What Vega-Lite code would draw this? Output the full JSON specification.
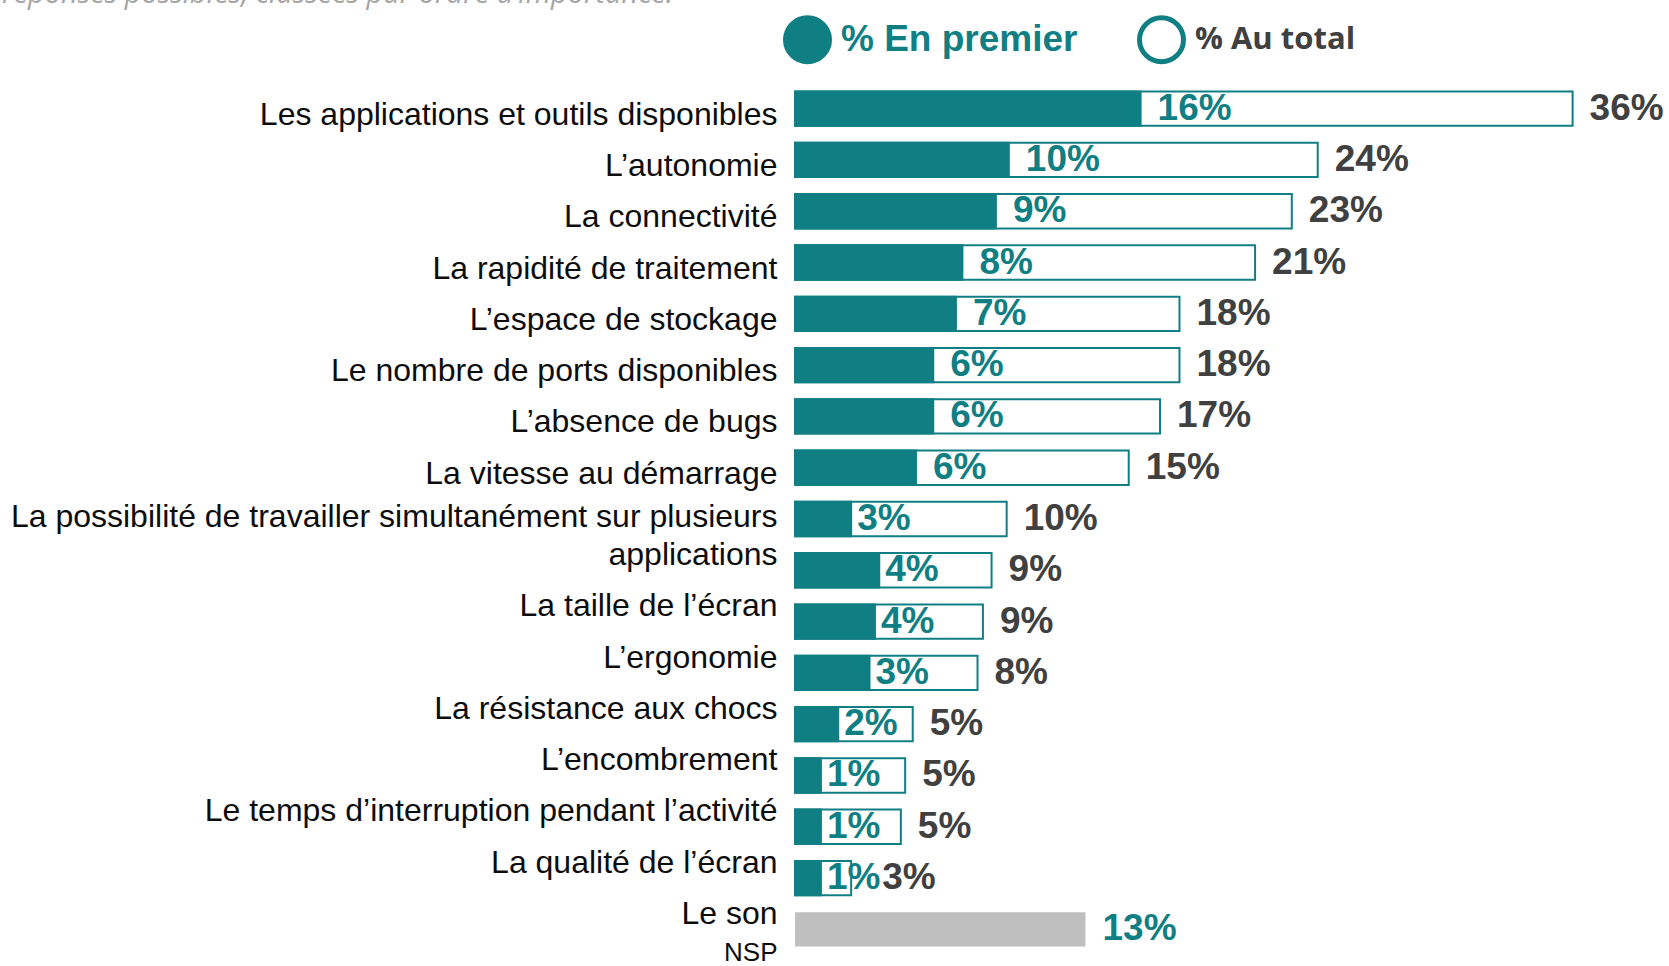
{
  "$schema": "https://vega.github.io/schema/vega-lite/v6.json",
  "width": 864,
  "height": 872,
  "autosize": {"type": "none"},
  "padding": {"left": 795, "top": 83, "right": 10, "bottom": 11},
  "background": "white",
  "config": {"view": {"stroke": null}, "font": "Liberation Sans"},
  "title": {
    "text": "réponses possibles, classées par ordre d’importance.",
    "anchor": "start",
    "frame": "group",
    "orient": "top",
    "dx": -793,
    "dy": 17,
    "offset": 0,
    "baseline": "alphabetic",
    "font": "Open Sans",
    "fontStyle": "italic",
    "fontWeight": "normal",
    "fontSize": 29,
    "color": "#a6a6a6"
  },
  "data": {
    "values": [
      {"item": "Les applications et outils disponibles", "premier": 0.160, "total": 0.360},
      {"item": "L’autonomie", "premier": 0.099, "total": 0.242},
      {"item": "La connectivité", "premier": 0.093, "total": 0.230},
      {"item": "La rapidité de traitement", "premier": 0.0775, "total": 0.213},
      {"item": "L’espace de stockage", "premier": 0.0745, "total": 0.178},
      {"item": "Le nombre de ports disponibles", "premier": 0.064, "total": 0.178},
      {"item": "L’absence de bugs", "premier": 0.064, "total": 0.169},
      {"item": "La vitesse au démarrage", "premier": 0.056, "total": 0.1545},
      {"item": "La possibilité de travailler simultanément sur plusieurs applications", "premier": 0.026, "total": 0.098},
      {"item": "La taille de l’écran", "premier": 0.039, "total": 0.091},
      {"item": "L’ergonomie", "premier": 0.037, "total": 0.087},
      {"item": "La résistance aux chocs", "premier": 0.0345, "total": 0.0845},
      {"item": "L’encombrement", "premier": 0.020, "total": 0.0545},
      {"item": "Le temps d’interruption pendant l’activité", "premier": 0.012, "total": 0.051},
      {"item": "La qualité de l’écran", "premier": 0.012, "total": 0.049},
      {"item": "Le son", "premier": 0.012, "total": 0.026},
      {"item": "NSP", "nsp": 0.1345}
    ]
  },
  "encoding": {
    "y": {
      "field": "item",
      "type": "nominal",
      "sort": null,
      "scale": {"paddingInner": 0.33, "paddingOuter": 0.165},
      "axis": {
        "title": null,
        "domain": false,
        "ticks": false,
        "tickSize": 0,
        "labelPadding": 18,
        "labelFont": "Liberation Sans",
        "labelFontSize": {"condition": {"test": "datum.value === 'NSP'", "value": 26}, "value": 32},
        "labelColor": "#0d0d0d",
        "labelLimit": 900,
        "labelOverlap": false,
        "labelBound": false,
        "labelLineHeight": 38,
        "labelOffset": {
          "condition": [
            {"test": "datum.value === 'NSP'", "value": 24},
            {"test": "datum.value === 'La possibilité de travailler simultanément sur plusieurs applications'", "value": -2},
            {"test": "indexof(['La taille de l’écran','L’ergonomie','La résistance aux chocs','L’encombrement','Le temps d’interruption pendant l’activité','La qualité de l’écran','Le son'], datum.value) >= 0", "value": 36}
          ],
          "value": 6
        },
        "labelExpr": "datum.value === 'La possibilité de travailler simultanément sur plusieurs applications' ? ['La possibilité de travailler simultanément sur plusieurs', 'applications'] : datum.label"
      }
    }
  },
  "layer": [
    {
      "mark": {"type": "bar", "stroke": "#107f83", "strokeWidth": 2},
      "encoding": {
        "x": {"field": "total", "type": "quantitative", "scale": {"domain": [0, 0.4], "nice": false, "zero": true}, "axis": null},
        "fill": {
          "datum": "% Au total",
          "type": "nominal",
          "scale": {"domain": ["% En premier", "% Au total"], "range": ["#107f83", "#ffffff"]},
          "legend": {
            "orient": "none",
            "legendX": -12,
            "legendY": -68,
            "direction": "horizontal",
            "title": null,
            "symbolType": "circle",
            "symbolSize": 1936,
            "symbolStrokeColor": "#107f83",
            "symbolStrokeWidth": 5,
            "labelFont": "Liberation Sans",
            "labelFontSize": 37,
            "labelFontWeight": "bold",
            "labelColor": "#107f83",
            "labelOffset": 9,
            "columnPadding": 51,
            "padding": 0,
            "labelLimit": 500,
            "encode": {
              "labels": {
                "update": {
                  "fill": {"signal": "datum.label === '% Au total' ? '#404040' : '#107f83'"},
                  "font": {"signal": "datum.label === '% Au total' ? 'Open Sans' : 'Liberation Sans'"},
                  "fontSize": {"signal": "datum.label === '% Au total' ? 31 : 37"}
                }
              }
            }
          }
        }
      }
    },
    {
      "mark": {"type": "bar", "stroke": "#107f83", "strokeWidth": 2},
      "encoding": {
        "x": {"field": "premier", "type": "quantitative"},
        "fill": {"datum": "% En premier", "type": "nominal"}
      }
    },
    {
      "mark": {"type": "bar", "color": "#bfbfbf"},
      "encoding": {
        "x": {"field": "nsp", "type": "quantitative"}
      }
    },
    {
      "mark": {"type": "text", "align": "left", "baseline": "middle", "dx": {"expr": "datum.premier < 0.05 ? 6 : 17"}, "font": "Liberation Sans", "fontSize": 37, "fontWeight": "bold", "color": "#107f83"},
      "encoding": {
        "x": {"field": "premier", "type": "quantitative"},
        "text": {"field": "premier", "type": "quantitative", "format": ".0%"}
      }
    },
    {
      "mark": {"type": "text", "align": "left", "baseline": "middle", "dx": {"expr": "datum.item === 'Le son' ? 31 : 17"}, "font": "Liberation Sans", "fontSize": 37, "fontWeight": "bold", "color": "#404040"},
      "encoding": {
        "x": {"field": "total", "type": "quantitative"},
        "text": {"field": "total", "type": "quantitative", "format": ".0%"}
      }
    },
    {
      "mark": {"type": "text", "align": "left", "baseline": "middle", "dx": 17, "font": "Liberation Sans", "fontSize": 37, "fontWeight": "bold", "color": "#107f83"},
      "encoding": {
        "x": {"field": "nsp", "type": "quantitative"},
        "text": {"field": "nsp", "type": "quantitative", "format": ".0%"}
      }
    }
  ]
}
